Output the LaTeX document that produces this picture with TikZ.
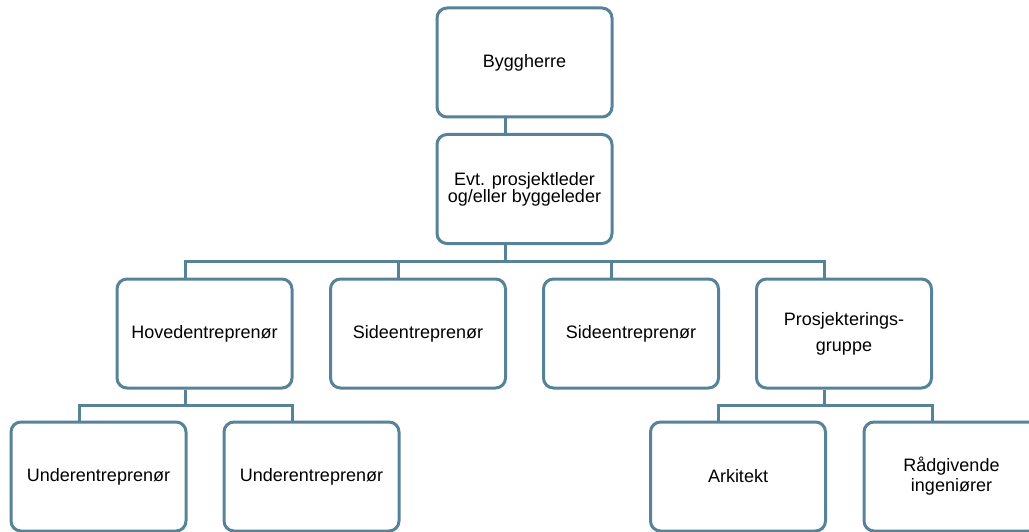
\documentclass[tikz,border=0pt]{standalone}
\usepackage{fontspec}
\setmainfont{Liberation Sans}
\definecolor{boxline}{RGB}{86,131,152}
\begin{document}
\begin{tikzpicture}[x=1pt,y=-1pt,
  orgbox/.style={draw=boxline, line width=3pt, fill=white, rectangle, rounded corners=10pt,
    minimum width=175pt, minimum height=109pt, inner sep=0pt, align=center,
    font=\fontsize{18}{20}\selectfont},
  conn/.style={draw=boxline, line width=3pt, line join=miter}]
\useasboundingbox (0,0) rectangle (1029,532);
\fill[white] (0,0) rectangle (1029,532);
\node[orgbox] (byg) at (524.5,62.5) {Byggherre};
\node[orgbox] (evt) at (524.5,189) {Evt. prosjektleder\\[-3pt]og/eller byggeleder};
\node[orgbox] (hov) at (204.5,333.5) {Hovedentreprenør};
\node[orgbox] (si1) at (418,333.5) {Sideentreprenør};
\node[orgbox] (si2) at (631,333.5) {Sideentreprenør};
\node[orgbox] (pro) at (844,333.5) {Prosjekterings-\\[6pt]gruppe};
\node[orgbox] (un1) at (98.5,476.5) {Underentreprenør};
\node[orgbox] (un2) at (311.5,476.5) {Underentreprenør};
\node[orgbox] (ark) at (738,476.5) {Arkitekt};
\node[orgbox] (rad) at (951.5,476.5) {Rådgivende\\ingeniører};
\coordinate (busA) at (0,261);
\coordinate (busB) at (0,405);
% Byggherre to Evt
\draw[conn] ([xshift=-19.5pt]byg.south) -- ([xshift=-19.5pt]evt.north);
% Evt to row 2
\draw[conn] ([xshift=-19.5pt]evt.south) -- ([xshift=-19.5pt]evt.south |- busA);
\draw[conn] ([xshift=-19.5pt]hov.north) -- ([xshift=-19.5pt]hov.north |- busA) -- ([xshift=-19.5pt]pro.north |- busA) -- ([xshift=-19.5pt]pro.north);
\draw[conn] ([xshift=-19.5pt]si1.north) -- ([xshift=-19.5pt]si1.north |- busA);
\draw[conn] ([xshift=-19.5pt]si2.north) -- ([xshift=-19.5pt]si2.north |- busA);
% Hoved to row 3
\draw[conn] ([xshift=-19.5pt]hov.south) -- ([xshift=-19.5pt]hov.south |- busB);
\draw[conn] ([xshift=-19.5pt]un1.north) -- ([xshift=-19.5pt]un1.north |- busB) -- ([xshift=-19.5pt]un2.north |- busB) -- ([xshift=-19.5pt]un2.north);
% Prosjektering to row 3
\draw[conn] ([xshift=-19.5pt]pro.south) -- ([xshift=-19.5pt]pro.south |- busB);
\draw[conn] ([xshift=-19.5pt]ark.north) -- ([xshift=-19.5pt]ark.north |- busB) -- ([xshift=-19.5pt]rad.north |- busB) -- ([xshift=-19.5pt]rad.north);
\end{tikzpicture}
\end{document}
